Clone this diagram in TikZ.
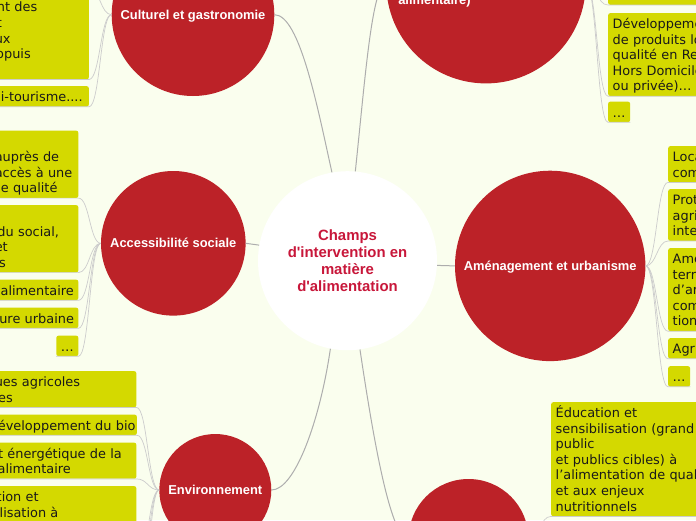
\documentclass[tikz,border=0pt]{standalone}
\usepackage{fontspec}
\setmainfont{Liberation Sans}
\newfontfamily\leaffont{DejaVu Sans}
\definecolor{pagecol}{HTML}{FAFEEE}
\definecolor{branchred}{HTML}{BC2228}
\definecolor{leafcol}{HTML}{D4D900}
\definecolor{titlecol}{HTML}{C8173A}
\newcommand{\leafstrut}{\rule[-2.7pt]{0pt}{15.6pt}}
\newcommand{\frag}[2]{\mbox{\hspace*{#1pt}#2}}
\tikzset{
  bignode/.style={circle, fill=branchred, text=white, inner sep=0pt, text height=10.5pt, text depth=1.5pt,
    font=\fontsize{12.9}{15}\selectfont\bfseries},
  leaf/.style={fill=leafcol, rounded corners=2pt, inner xsep=4.5pt, inner ysep=2.4pt, align=left, text=black!90,
    font=\leaffont\fontsize{12.9}{15.6}\selectfont, execute at begin node=\leafstrut, execute at end node=\leafstrut},
  branch/.style={draw=black!32, line width=1pt},
  twig/.style={draw=black!20, line width=0.7pt}
}
\begin{document}
\begin{tikzpicture}[x=1pt, y=-1pt]
\useasboundingbox (0,0) rectangle (696,520);
\fill[pagecol] (0,0) rectangle (696,520);
\node[circle, fill=white, minimum size=179pt, inner sep=0pt, text=titlecol, align=center,
  font=\fontsize{14.9}{17.2}\selectfont\bfseries] (main) at (347.5,260.7)
  {Champs\\d\textquotesingle intervention en\\matière\\ d\textquotesingle alimentation};
\node[bignode, minimum size=162.6pt] (culture) at (193,14.7) {Culturel et gastronomie};
\node[bignode, minimum size=199.4pt] (food) at (486,-16.3) {};
\node[bignode, anchor=center] (foodtext) at (434.5,0.1) {alimentaire)};
\node[bignode, minimum size=144.6pt] (social) at (173.3,243.3) {Accessibilité sociale};
\node[bignode, minimum size=190.4pt] (urban) at (550.2,265.9) {Aménagement et urbanisme};
\node[bignode, minimum size=112pt] (nature) at (215.3,490) {Environnement};
\node[bignode, minimum size=120pt] (learn) at (468.5,539) {};

\draw[branch] (culture.east) .. controls (300,14.7) and (318,110) .. (main.100);
\draw[branch] (main.85) .. controls (365,80) and (372,-16.3) .. (food.west);
\draw[branch] (social.east) -- (main.170);
\draw[branch] (main.-3) -- (urban.west);
\draw[branch] (nature.east) .. controls (295,490) and (320,420) .. (main.-101);
\draw[branch] (main.-82) .. controls (372,430) and (390,539) .. (learn.west);

\node[leaf, anchor=south east, text width=89.5pt] (cul1) at (89,79.5) {\frag{2.1}{nt des}\\\frag{2}{t}\\ux\\\frag{1.4}{opuis}\\\mbox{}};
\node[leaf, anchor=north east, text width=89.5pt] (cul2) at (89,86) {\frag{6}{i-tourisme....}};
\coordinate (cul0) at (89,-12);
\node[leaf, anchor=north east, text width=79pt] (soc1) at (78.5,130.5) {\mbox{}\\auprès de\\accès à une\\\frag{6}{e qualité}};
\node[leaf, anchor=north east, text width=79pt] (soc2) at (78.5,205) {\mbox{}\\\frag{2.6}{du social,}\\et\\\frag{4.3}{s}};
\node[leaf, anchor=north east, text width=79pt] (soc3) at (78.5,279.5) {\frag{5.8}{alimentaire}};
\node[leaf, anchor=north east, text width=79pt] (soc4) at (78.5,307.5) {\frag{4.5}{ure urbaine}};
\node[leaf, anchor=north east, text width=12.9pt] (soc5) at (78.5,335.5) {…};
\node[leaf, anchor=north east, text width=137pt] (env1) at (136.5,371) {ues agricoles\\\frag{3.3}{es}};
\node[leaf, anchor=north east, text width=137pt] (env2) at (137,414.5) {\frag{2.6}{éveloppement du bio}};
\node[leaf, anchor=north east, text width=137pt] (env3) at (136.5,442.5) {\frag{3.3}{t énergétique de la}\\\frag{2.8}{alimentaire}};
\node[leaf, anchor=north east, text width=137pt] (env4) at (136.5,486) {\frag{1.9}{tion et}\\\frag{1.3}{ilisation à}\\\mbox{}\\\mbox{}\\\mbox{}};
\coordinate (env5) at (136.5,600);
\coordinate (env6) at (136.5,640);
\node[leaf, anchor=south west, text width=110pt, minimum height=30pt] (foo1) at (608,5) {};
\node[leaf, anchor=north west, text width=110pt] (foo2) at (608,13) {Développeme\\de produits lo\\qualité en Re\\Hors Domicile\\ou privée)…};
\node[leaf, anchor=north west, text width=12.9pt] (foo3) at (608,101.5) {…};
\node[leaf, anchor=north west, text width=60pt] (urb1) at (668,146) {Loca\\com};
\node[leaf, anchor=north west, text width=60pt] (urb2) at (668,189) {Prot\\agri\\inte};
\node[leaf, anchor=north west, text width=60pt] (urb3) at (668,248) {Ame\\terr\\d’ar\\com\\tion};
\node[leaf, anchor=north west, text width=60pt] (urb4) at (668,338) {Agri};
\node[leaf, anchor=north west, text width=12.9pt] (urb5) at (668,366) {…};
\node[leaf, anchor=north west, text width=170pt] (lea1) at (551,402) {Éducation et\\sensibilisation (grand\\public\\et publics cibles) à\\l’alimentation de qual\\et aux enjeux\\nutritionnels};

\foreach \leaf in {cul1,cul2}
  \draw[twig] (culture.west) .. controls +(-11,0) and +(11,0) .. (\leaf.south east) -- (\leaf.south west);
\draw[twig] (culture.west) .. controls +(-11,0) and +(11,0) .. (cul0);
\foreach \leaf in {soc1,soc2,soc3,soc4,soc5}
  \draw[twig] (social.west) .. controls +(-11,0) and +(11,0) .. (\leaf.south east) -- (\leaf.south west);
\foreach \leaf in {env1,env2,env3,env4}
  \draw[twig] (nature.west) .. controls +(-11,0) and +(11,0) .. (\leaf.south east) -- (\leaf.south west);
\foreach \leaf in {env5,env6}
  \draw[twig] (nature.west) .. controls +(-11,0) and +(11,0) .. (\leaf);
\foreach \leaf in {foo1,foo2,foo3}
  \draw[twig] (food.east) .. controls +(11,0) and +(-11,0) .. (\leaf.south west) -- (\leaf.south east);
\foreach \leaf in {urb1,urb2,urb3,urb4,urb5}
  \draw[twig] (urban.east) .. controls +(11,0) and +(-11,0) .. (\leaf.south west) -- (\leaf.south east);
\draw[twig] (learn.east) .. controls +(11,0) and +(-11,0) .. (lea1.south west) -- (lea1.south east);
\end{tikzpicture}
\end{document}
